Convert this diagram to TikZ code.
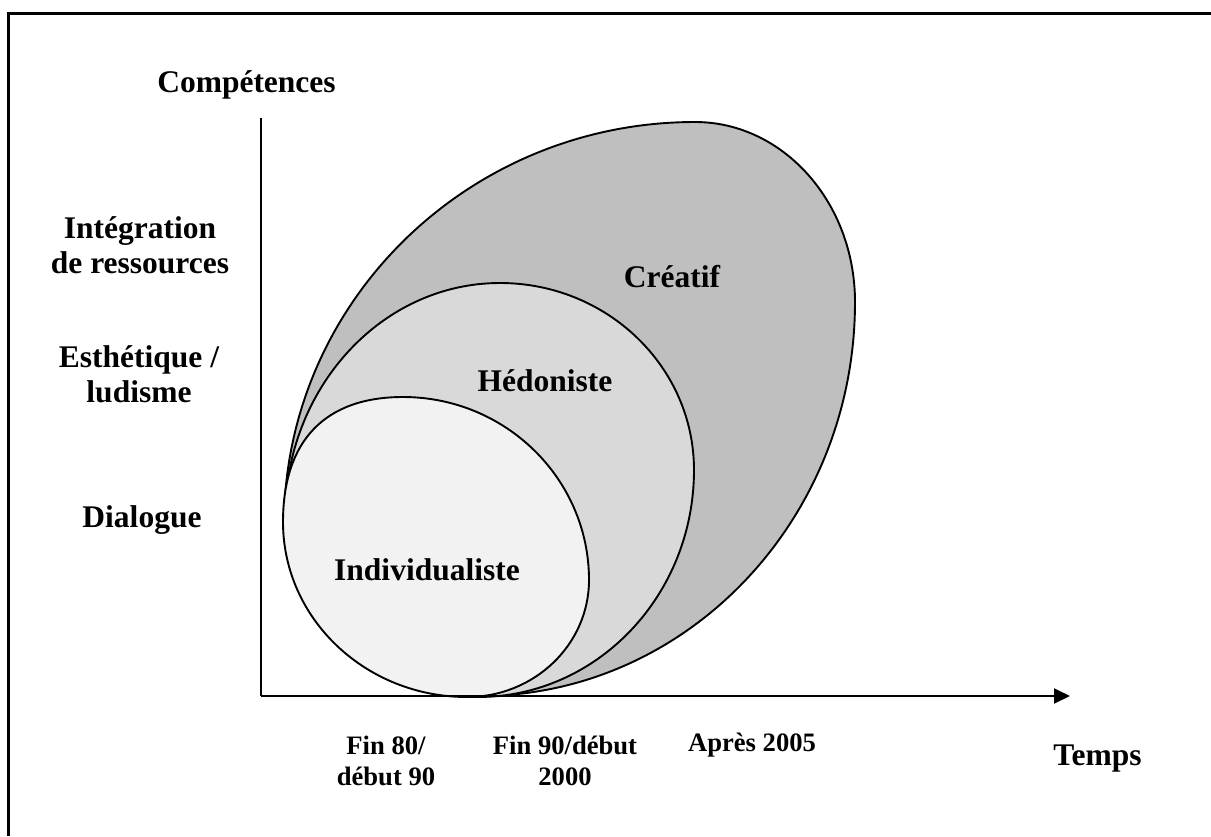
\documentclass[tikz,border=0pt]{standalone}
\usepackage{fontspec}
\setmainfont{Liberation Serif}
\usetikzlibrary{arrows.meta}
\definecolor{zoneC}{HTML}{BFBFBF}
\definecolor{zoneH}{HTML}{D9D9D9}
\definecolor{zoneI}{HTML}{F2F2F2}
\begin{document}
\begin{tikzpicture}[x=1pt,y=-1pt,
  lbl/.style={font=\fontsize{31.5}{35}\selectfont\bfseries, inner sep=0pt, anchor=base},
  datelbl/.style={font=\fontsize{26.6}{31.5}\selectfont\bfseries, inner sep=0pt, anchor=base},
  zone/.style={draw=black, line width=1.9pt},
  axisline/.style={line width=2pt},
  frameline/.style={line width=2.7pt}]
\useasboundingbox (0,0) rectangle (1211,836);

% frame (left and top edges)
\coordinate (frameBL) at (8.7,836);
\coordinate (frameTL) at (8.7,13.3);
\coordinate (frameTR) at (1211,13.3);
\draw[frameline] (frameBL) -- (frameTL) -- (frameTR);

% nested zones, each built from four quarter arcs (top, right, bottom, left)
\filldraw[zone, fill=zoneC]
  (695,122) .. controls (783.3,122) and (855,202.6) .. (855,302)
            .. controls (855,519.5) and (687,696) .. (480,696)
            .. controls (401.6,696) and (284,593.4) .. (284,525)
            .. controls (284,302.5) and (468.1,122) .. cycle;
\filldraw[zone, fill=zoneH]
  (500,283) .. controls (607.1,283) and (694,366.8) .. (694,470)
            .. controls (694,595.3) and (597.2,697) .. (478,697)
            .. controls (400.8,697) and (285,589.6) .. (285,518)
            .. controls (285,388.3) and (381.3,283) .. cycle;
\filldraw[zone, fill=zoneI]
  (403,397) .. controls (505.7,397) and (589,479) .. (589,580)
            .. controls (589,644.6) and (534.3,697) .. (467,697)
            .. controls (365.4,697) and (283,618.6) .. (283,522)
            .. controls (283,440.75) and (325,397) .. cycle;

% axes
\coordinate (origin) at (261,696);
\coordinate (ytop) at (261,118);
\coordinate (xend) at (1070,696);
\draw[axisline] (ytop) -- (origin);
\draw[axisline, -{Triangle[length=16pt,width=15pt]}] (origin) -- (xend);

% axis titles
\node[lbl] (competences) at (246.5,92) {Compétences};
\node[lbl] (temps) at (1097.5,765) {Temps};

% competence levels
\node[lbl] (integration) at (140,238) {\begin{tabular}[t]{@{}c@{}}Intégration\\de ressources\end{tabular}};
\node[lbl] (esthetique) at (139,367) {\begin{tabular}[t]{@{}c@{}}Esthétique /\\ludisme\end{tabular}};
\node[lbl] (dialogue) at (142,527) {Dialogue};

% periods
\node[datelbl] (fin80) at (386,754) {\begin{tabular}[t]{@{}c@{}}Fin 80/\\début 90\end{tabular}};
\node[datelbl] (fin90) at (565,754) {\begin{tabular}[t]{@{}c@{}}Fin 90/début\\2000\end{tabular}};
\node[datelbl] (apres) at (752,751) {Après 2005};

% zone names
\node[lbl] (creatif) at (672,287) {Créatif};
\node[lbl] (hedoniste) at (545,391) {Hédoniste};
\node[lbl] (individualiste) at (427,580) {Individualiste};
\end{tikzpicture}
\end{document}
